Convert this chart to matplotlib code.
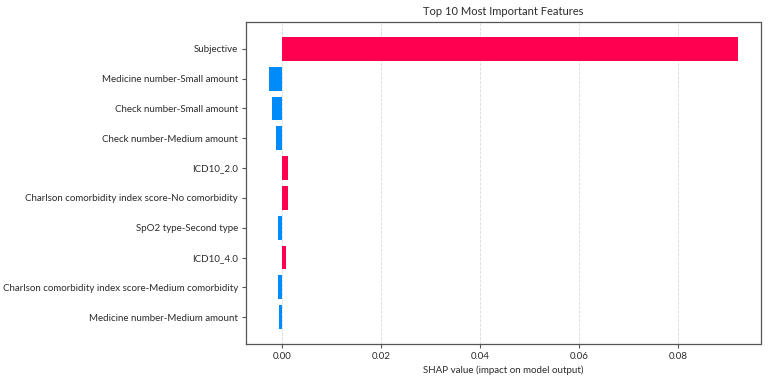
import matplotlib
matplotlib.use("Agg")
import matplotlib.pyplot as plt

features = [
    "Subjective",
    "Medicine number-Small amount",
    "Check number-Small amount",
    "Check number-Medium amount",
    "ICD10_2.0",
    "Charlson comorbidity index score-No comorbidity",
    "SpO2 type-Second type",
    "ICD10_4.0",
    "Charlson comorbidity index score-Medium comorbidity",
    "Medicine number-Medium amount",
]
shap_values = [0.0920, -0.0026, -0.0019, -0.0012, 0.0012, 0.0012, -0.0007, 0.00075, -0.0007, -0.0005]
xticks = [0.00, 0.02, 0.04, 0.06, 0.08]
xtick_labels = ["0.00", "0.02", "0.04", "0.06", "0.08"]
title = "Top 10 Most Important Features"
xlabel = "SHAP value (impact on model output)"

RED = "#ff0051"
BLUE = "#008bfb"

plt.rcParams['font.family'] = ['Lato', 'DejaVu Sans']

fig = plt.figure(figsize=(7.69, 3.81), dpi=100)
ax = fig.add_axes([246.2 / 769, 1 - 344 / 381, (760.5 - 246.2) / 769, (344 - 22) / 381])

ypos = list(range(len(features)))
colors = [RED if v > 0 else BLUE for v in shap_values]
ax.barh(ypos, shap_values, height=0.8, color=colors, zorder=3)

ax.set_yticks(ypos)
ax.set_yticklabels(features, fontsize=7, color="#2b2b2b")
ax.set_ylim(9.9, -0.9)
ax.set_xlim(-0.0072, 0.0966)
ax.set_xticks(xticks)
ax.set_xticklabels(xtick_labels, fontsize=7, color="#2b2b2b")
ax.set_xlabel(xlabel, fontsize=7, color="#2b2b2b", labelpad=3)
ax.set_title(title, fontsize=8, color="#2b2b2b", pad=5)

ax.grid(axis="x", linestyle="--", color="#d9d9d9", linewidth=0.6, zorder=0)
for s in ax.spines.values():
    s.set_color("#555555")
    s.set_linewidth(0.9)
ax.tick_params(axis="both", length=3, width=0.8, color="#555555", pad=3)

fig.savefig("out.png", dpi=100)
